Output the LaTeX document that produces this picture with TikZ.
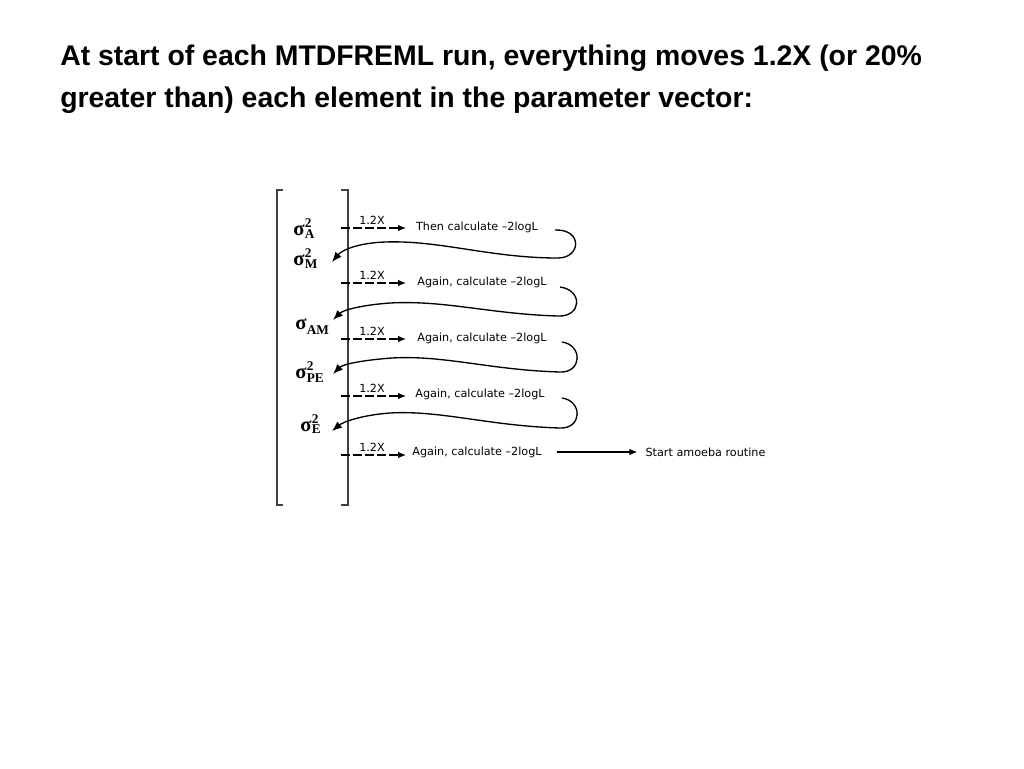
\documentclass[tikz,border=0pt]{standalone}
\usepackage{fontspec}
\setmainfont{Liberation Serif}
\newfontfamily\vfont{DejaVu Sans}
\newfontfamily\tfont{Liberation Sans}
\usetikzlibrary{arrows.meta}
\newcommand\sgm[3]{σ\kern0.2pt{\fontsize{10}{10}\selectfont\rlap{\raisebox{6pt}{#1}}\raisebox{-#3}{#2}}}
\begin{document}
\begin{tikzpicture}[x=0.75pt,y=-0.75pt,
  ttl/.style={anchor=base west,inner sep=0pt,font=\tfont\bfseries\fontsize{21.3}{25}\selectfont},
  lbl/.style={inner sep=1pt,font=\vfont\fontsize{8.4}{10}\selectfont},
  sig/.style={anchor=base west,inner sep=0pt,font=\bfseries\fontsize{15.5}{18}\selectfont},
  brk/.style={draw=black!75,line width=1pt},
  dasharr/.style={draw=black,line width=0.9pt,dash pattern=on 6.5pt off 2.5pt,-{Latex[length=6pt,width=5pt]}},
  curv/.style={draw=black,line width=1pt,-{Latex[length=7.5pt,width=6pt]}},
  solarr/.style={draw=black,line width=0.9pt,-{Latex[length=6pt,width=5pt]}}]
\useasboundingbox (0,0) rectangle (1024,768);
% title
\node[ttl] (t1) at (60,65) {At start of each MTDFREML run, everything moves 1.2X (or 20\%};
\node[ttl] (t2) at (60,107) {greater than) each element in the parameter vector:};
% brackets
\draw[brk] (283,190) -- (277,190) -- (277,505) -- (283,505);
\draw[brk] (341,190) -- (348,190) -- (348,505) -- (341,505);
% sigma labels
\node[sig] (sA) at (293,235) {\sgm{2}{A}{2.3pt}};
\node[sig] (sM) at (293,265) {\sgm{2}{M}{2.3pt}};
\node[sig] (sAM) at (295,329) {\sgm{}{AM}{4pt}};
\node[sig] (sPE) at (295,378) {\sgm{2}{PE}{3pt}};
\node[sig] (sE) at (300,431) {\sgm{2}{E}{2pt}};
% rows
\foreach \i/\y in {1/228,2/283,3/339,4/396,5/455}{
  \coordinate (d\i) at (341,\y);
  \coordinate (e\i) at (406,\y);
  \draw[dasharr] (d\i) -- (e\i);
  \node[lbl] (x\i) at (372,\y-8) {1.2X};
}
\node[lbl] (c1) at (477,227) {Then calculate –2logL};
\node[lbl] (c2) at (482,282) {Again, calculate –2logL};
\node[lbl] (c3) at (482,338) {Again, calculate –2logL};
\node[lbl] (c4) at (480,394) {Again, calculate –2logL};
\node[lbl] (c5) at (477,452) {Again, calculate –2logL};
\node[lbl,anchor=west] (am) at (644,452) {Start amoeba routine};
\draw[solarr,shorten >=5pt] ([xshift=10pt]c5.east) -- (am.west);
% curves
\coordinate (k1) at (332,262);
\coordinate (k2) at (333,320);
\coordinate (k3) at (333,374);
\coordinate (k4) at (332,431);
\draw[curv] (555,230) .. controls (583,229) and (581,258) .. (558,258)
   .. controls (490,258) and (440,240) .. (385,242) .. controls (358,243) and (342,250) .. (k1);
\draw[curv] (560,287) .. controls (583,290) and (582,317) .. (558,316)
   .. controls (490,314) and (445,300) .. (390,303) .. controls (362,305) and (343,310) .. (k2);
\draw[curv] (562,342) .. controls (583,345) and (582,373) .. (560,372)
   .. controls (490,370) and (445,355) .. (392,358) .. controls (364,360) and (343,364) .. (k3);
\draw[curv] (562,398) .. controls (583,401) and (582,429) .. (560,428)
   .. controls (490,426) and (440,410) .. (390,413) .. controls (362,415) and (343,422) .. (k4);
\end{tikzpicture}
\end{document}
